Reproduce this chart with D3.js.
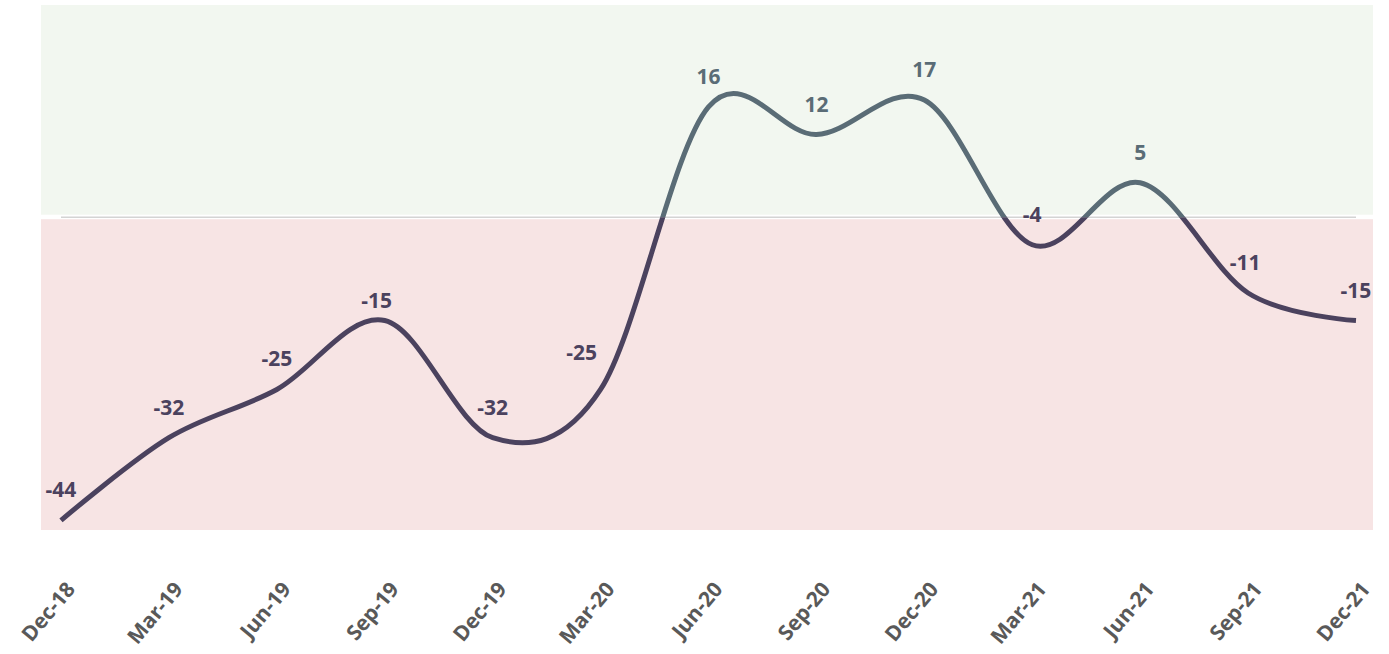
<!DOCTYPE html>
<html><head><meta charset="utf-8">
<script src="https://cdn.jsdelivr.net/npm/d3@7"></script>
<style>body{margin:0;background:#fff}svg{display:block}</style>
</head><body>
<svg id="c" width="1389" height="654"></svg>
<script>
const categories = ["Dec-18","Mar-19","Jun-19","Sep-19","Dec-19","Mar-20","Jun-20","Sep-20","Dec-20","Mar-21","Jun-21","Sep-21","Dec-21"];
const values = [-44,-32,-25,-15,-32,-25,16,12,17,-4,5,-11,-15];
const yExtent = [-45.4, 30.8];
// label nudges (px) to avoid the line
const labelDx = [0,0,0,-8,0,-19,0,0,0,0,0,-3,0];
const labelDy = [0,0,0,10,0,-6,0,0,0,0,0,0,0];

const svg = d3.select("#c");
const x = d3.scalePoint().domain(categories).range([61, 1356]);
const y = d3.scaleLinear().domain(yExtent).range([530, 5]);
const y0 = y(0);
const posCol = "#5a6c76", negCol = "#4b425e";

// bands
svg.append("rect").attr("x",41).attr("width",1332).attr("y",y(yExtent[1])).attr("height",y0-2.5-y(yExtent[1])).attr("fill","#f2f7f0");
svg.append("rect").attr("x",41).attr("width",1332).attr("y",y0+2).attr("height",y(yExtent[0])-y0-2).attr("fill","#f7e4e4");
svg.append("line").attr("x1",x(categories[0])).attr("x2",x(categories[categories.length-1])).attr("y1",y0).attr("y2",y0).attr("stroke","#d4d4d4").attr("stroke-width",1.5);

const defs = svg.append("defs");
defs.append("clipPath").attr("id","above").append("rect").attr("x",0).attr("y",0).attr("width",1389).attr("height",y0);
defs.append("clipPath").attr("id","below").append("rect").attr("x",0).attr("y",y0).attr("width",1389).attr("height",654-y0);

const line = d3.line().x((d,i)=>x(categories[i])).y(d=>y(d)).curve(d3.curveCatmullRom.alpha(0));
svg.append("path").datum(values).attr("d",line).attr("fill","none").attr("stroke",posCol).attr("stroke-width",5).attr("clip-path","url(#above)");
svg.append("path").datum(values).attr("d",line).attr("fill","none").attr("stroke",negCol).attr("stroke-width",5).attr("clip-path","url(#below)");

// value labels
svg.selectAll("text.val").data(values).enter().append("text")
  .attr("class","val")
  .attr("x",(d,i)=>x(categories[i])+labelDx[i])
  .attr("y",(d,i)=>y(d)-23+labelDy[i])
  .attr("text-anchor","middle")
  .attr("font-family","Open Sans")
  .attr("font-weight","bold")
  .attr("font-size",21)
  .attr("fill",d=>d>=0?posCol:negCol)
  .text(d=>d);

// x axis
const xAxis = svg.append("g").attr("transform","translate(0,560)").call(d3.axisBottom(x).tickSize(0).tickPadding(0));
xAxis.select(".domain").remove();
xAxis.selectAll("text")
  .attr("font-family","Open Sans").attr("font-weight","bold").attr("font-size",21).attr("fill","#595959")
  .attr("text-anchor","end").attr("dy","0.35em").attr("y",0)
  .attr("transform","translate(9,25) rotate(-50)");
</script>
</body></html>
